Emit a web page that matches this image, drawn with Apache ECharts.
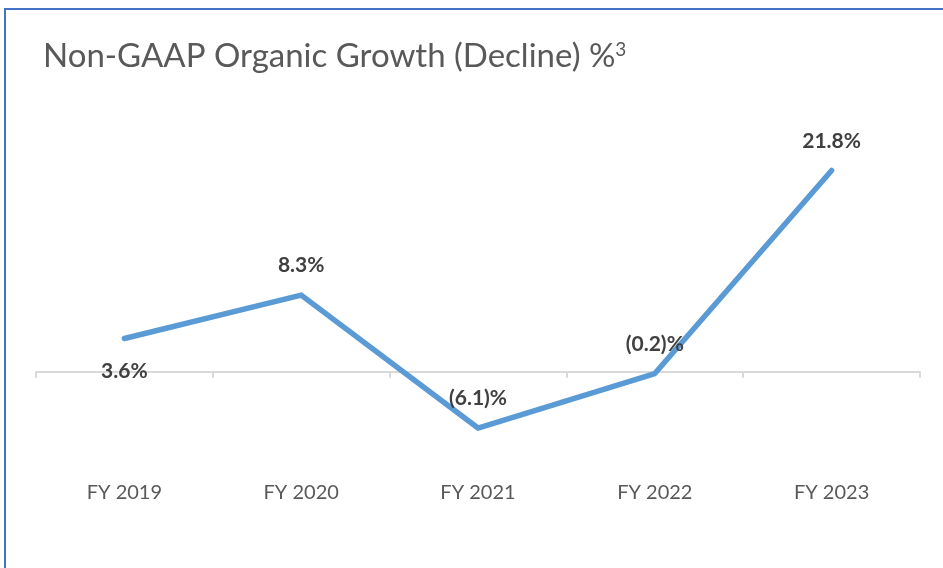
<!DOCTYPE html>
<html>
<head>
<meta charset="utf-8">
<script src="https://cdn.jsdelivr.net/npm/echarts@6/dist/echarts.min.js"></script>
<style>
body { margin: 0; background: #fff; }
#wrap { position: relative; width: 943px; height: 568px; }
#frame { position: absolute; left: 4px; top: 8px; right: 0; bottom: 0; border-left: 2px solid #4472c4; border-top: 2px solid #4472c4; }
#chart { position: absolute; left: 0; top: 0; width: 943px; height: 568px; }
</style>
</head>
<body>
<div id="wrap">
<div id="frame"></div>
<div id="chart"></div>
</div>
<script>
var years = ['FY 2019', 'FY 2020', 'FY 2021', 'FY 2022', 'FY 2023'];
var growth = [3.6, 8.3, -6.1, -0.2, 21.8];
var labelPos = ['bottom', 'top', 'top', 'top', 'top'];

var growth_echart = echarts.init(document.getElementById('chart'));

// negative values shown in brackets, like (6.1)%
function fmtPct(v) {
    if (v < 0) return '(' + Math.abs(v).toFixed(1) + ')%';
    return v.toFixed(1) + '%';
}

var points = [];
for (var i = 0; i < growth.length; i++) {
    points.push({
        value: growth[i],
        label: { position: labelPos[i], distance: labelPos[i] == 'bottom' ? 22 : 19 }
    });
}

var option = {
    animation: false,
    title: {
        text: '{a|Non-GAAP Organic Growth (Decline) %}{s|3}',
        left: 38,
        top: 35,
        textStyle: {
            rich: {
                a: { fontFamily: 'Lato', fontSize: 33, fontWeight: 'normal', color: '#595959' },
                s: { fontFamily: 'Lato', fontSize: 19, fontWeight: 'normal', color: '#595959', verticalAlign: 'top', padding: [0, 0, 12, 0] }
            }
        }
    },
    grid: { left: 36, right: 23, top: 141, bottom: 104, outerBoundsMode: 'none', containLabel: false },
    xAxis: [{
        // zero line with ticks
        type: 'category',
        data: years,
        boundaryGap: true,
        axisLine: { onZero: true, lineStyle: { color: '#d9d9d9', width: 2 } },
        axisTick: { show: true, length: 6, inside: false, lineStyle: { color: '#d9d9d9', width: 2 } },
        axisLabel: { show: false }
    }, {
        // year labels at the bottom
        type: 'category',
        data: years,
        position: 'bottom',
        boundaryGap: true,
        axisLine: { show: false, onZero: false },
        axisTick: { show: false },
        axisLabel: { margin: 19, fontFamily: 'Lato', fontSize: 20, color: '#595959' }
    }],
    yAxis: {
        type: 'value',
        min: -10,
        max: 25,
        show: false,
        splitLine: { show: false }
    },
    series: [{
        type: 'line',
        data: points,
        symbol: 'circle',
        symbolSize: 0,
        showSymbol: true,
        itemStyle: { color: '#5b9bd5', borderWidth: 0 },
        lineStyle: { color: '#5b9bd5', width: 5.5, cap: 'round', join: 'round' },
        label: {
            show: true,
            fontFamily: 'Lato',
            fontWeight: 'bold',
            fontSize: 21,
            color: '#404040',
            formatter: function (p) { return fmtPct(p.value); }
        }
    }]
};

growth_echart.setOption(option);
</script>
</body>
</html>
